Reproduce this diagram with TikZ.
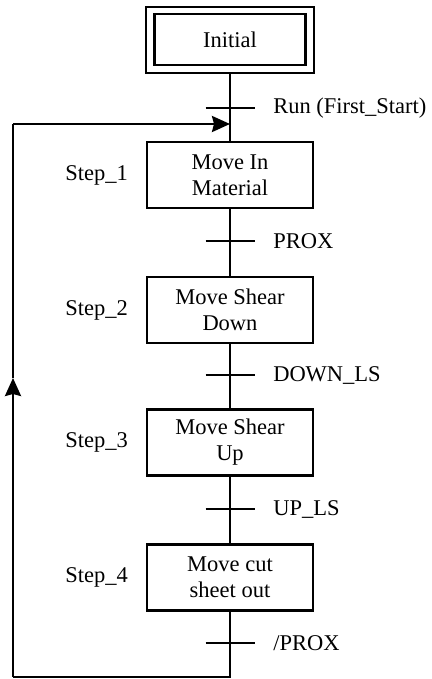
\documentclass[tikz,border=0pt]{standalone}
\usepackage{fontspec}
\setmainfont{Liberation Serif}
\usetikzlibrary{arrows.meta}
\begin{document}
\begin{tikzpicture}[x=1pt,y=-1pt, line width=2.5pt,
  txt/.style={font=\fontsize{22.5}{26}\selectfont},
  stepbox/.style={draw, minimum width=166pt, minimum height=66pt, align=center, inner sep=0pt, txt},
  lbl/.style={inner sep=0pt, txt},
  arr/.style={-{Stealth[length=18pt,width=16pt,inset=2pt]}}]
\useasboundingbox (0,0) rectangle (431,679);
% initial step (double box)
\node[draw, minimum width=168pt, minimum height=66pt, inner sep=0pt] (initout) at (230,40) {};
\node[stepbox, minimum width=151pt, minimum height=51pt] (init) at (230,39.5) {Initial};
% steps
\node[stepbox] (s1) at (230,175) {Move In\\Material};
\node[stepbox] (s2) at (230,310) {Move Shear\\Down};
\node[stepbox] (s3) at (230,442.5) {Move Shear\\Up};
\node[stepbox] (s4) at (230,577.5) {Move cut\\sheet out};
% step labels
\node[lbl, anchor=east] (l1) at (129,175) {Step\_1};
\node[lbl, anchor=east] (l2) at (129,310) {Step\_2};
\node[lbl, anchor=east] (l3) at (129,442.5) {Step\_3};
\node[lbl, anchor=east] (l4) at (129,577.5) {Step\_4};
% transitions
\coordinate (t0) at (230,108);
\coordinate (t1) at (230,241);
\coordinate (t2) at (230,375);
\coordinate (t3) at (230,509);
\coordinate (t4) at (230,643);
\foreach \t in {t0,t1,t2,t3,t4}{
  \draw ([xshift=-24.5pt]\t) -- ([xshift=24.5pt]\t);
}
\node[lbl, anchor=west] (c0) at (272,108) {Run (First\_Start)};
\node[lbl, anchor=west] (c1) at (272,241) {PROX};
\node[lbl, anchor=west] (c2) at (272,375) {DOWN\_LS};
\node[lbl, anchor=west] (c3) at (272,509) {UP\_LS};
\node[lbl, anchor=west] (c4) at (272,643) {/PROX};
% vertical links
\draw (initout.south) -- (s1.north);
\draw (s1.south) -- (s2.north);
\draw (s2.south) -- (s3.north);
\draw (s3.south) -- (s4.north);
% loop back
\coordinate (cb) at (230,677);
\coordinate (cl) at (13,677);
\coordinate (cm) at (13,378);
\coordinate (ct) at (13,124);
\coordinate (cj) at (230,124);
\draw (s4.south) -- (cb) -- (cl);
\draw[arr] (cl) -- (cm);
\draw (cm) -- (ct);
\draw[arr] (ct) -- (cj);
\end{tikzpicture}
\end{document}
